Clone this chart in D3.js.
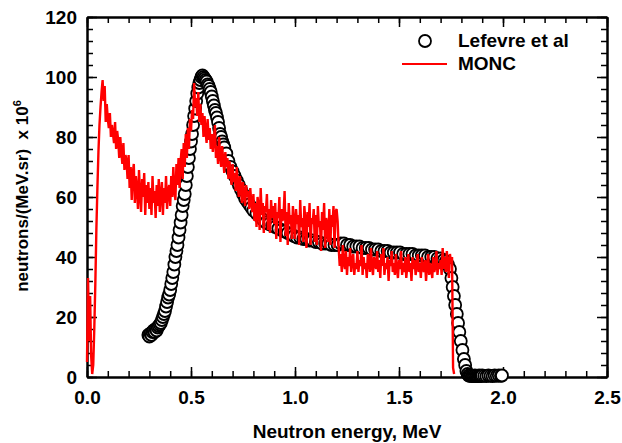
<!DOCTYPE html>
<html>
<head>
<meta charset="utf-8">
<script src="https://cdn.jsdelivr.net/npm/d3@7"></script>
<style>
  body { margin: 0; background: #fff; }
  svg text { font-family: "Liberation Sans", Arial, sans-serif; font-weight: bold; fill: #000; }
</style>
</head>
<body>
<div id="chart"></div>
<script>
// MONC calculation: one value per 0.005 MeV bin, first bin at 0 MeV
const MONC_STEP = 0.005;
const MONC_VALUES = [
  5, 33, 12, 27, 7, 1, 4, 16, 31, 49, 63, 75, 84, 90, 95, 99, 92, 97, 85, 91,
  86, 83, 88, 80, 84, 81, 78, 85, 76, 82, 79, 73, 80, 75, 71, 78, 69, 74, 72, 66,
  74, 63, 70, 59, 68, 71, 58, 67, 63, 56, 69, 61, 55, 66, 60, 68, 54, 64, 58, 65,
  56, 63, 54, 67, 58, 62, 53, 64, 57, 66, 55, 61, 65, 54, 63, 58, 67, 56, 62, 64,
  57, 67, 60, 70, 62, 59, 71, 64, 73, 63, 72, 76, 66, 78, 70, 81, 73, 83, 76, 86,
  82, 89, 86, 98, 90, 93, 87, 95, 85, 91, 84, 88, 80, 87, 82, 78, 86, 79, 83, 76,
  81, 75, 79, 84, 73, 77, 71, 80, 74, 70, 77, 72, 68, 75, 70, 73, 66, 72, 68, 64,
  71, 65, 68, 62, 70, 64, 60, 67, 63, 58, 65, 61, 57, 64, 60, 62, 56, 63, 58, 55,
  61, 52, 58, 50, 60, 57, 49, 63, 54, 58, 48, 57, 55, 61, 49, 56, 48, 59, 53, 57,
  51, 58, 46, 55, 53, 60, 45, 56, 52, 54, 62, 47, 55, 44, 58, 51, 54, 46, 57, 52,
  46, 56, 51, 54, 44, 59, 50, 53, 45, 57, 52, 43, 55, 50, 58, 44, 53, 51, 56, 45,
  54, 44, 57, 50, 52, 42, 55, 49, 58, 43, 53, 51, 45, 56, 44, 54, 50, 57, 43, 55,
  56, 52, 43, 37, 41, 35, 44, 38, 36, 42, 34, 40, 37, 43, 35, 39, 41, 34, 38, 36,
  42, 35, 39, 37, 44, 34, 40, 36, 38, 33, 41, 39, 35, 43, 37, 34, 40, 38, 36, 42,
  35, 39, 33, 41, 37, 43, 34, 38, 36, 40, 32, 39, 37, 42, 35, 38, 34, 41, 36, 33,
  39, 36, 42, 34, 38, 35, 40, 33, 37, 41, 35, 38, 32, 40, 36, 39, 34, 37, 41, 35,
  38, 33, 40, 36, 35, 39, 32, 37, 41, 34, 38, 36, 33, 40, 35, 37, 42, 34, 38, 36,
  39, 34, 43, 36, 40, 35, 42, 37, 33, 41, 38, 40, 3, 1
];

// Lefevre et al measurement
const LEF_E = [
  0.295, 0.300, 0.305, 0.310, 0.315, 0.320, 0.325, 0.330, 0.335, 0.340,
  0.345, 0.350, 0.355, 0.360, 0.365, 0.370, 0.375, 0.380, 0.385, 0.390,
  0.395, 0.400, 0.405, 0.410, 0.415, 0.420, 0.425, 0.430, 0.435, 0.440,
  0.445, 0.450, 0.455, 0.460, 0.465, 0.470, 0.475, 0.480, 0.485, 0.490,
  0.495, 0.500, 0.505, 0.510, 0.515, 0.520, 0.525, 0.530, 0.535, 0.540,
  0.545, 0.550, 0.555, 0.560, 0.565, 0.570, 0.575, 0.580, 0.585, 0.590,
  0.595, 0.600, 0.605, 0.610, 0.615, 0.620, 0.625, 0.630, 0.635, 0.640,
  0.645, 0.650, 0.655, 0.660, 0.670, 0.680, 0.690, 0.700, 0.710, 0.720,
  0.730, 0.740, 0.750, 0.760, 0.770, 0.780, 0.790, 0.800, 0.815, 0.830,
  0.845, 0.860, 0.875, 0.890, 0.905, 0.920, 0.935, 0.950, 0.965, 0.980,
  0.995, 1.010, 1.025, 1.040, 1.055, 1.070, 1.085, 1.100, 1.115, 1.130,
  1.145, 1.160, 1.175, 1.190, 1.205, 1.220, 1.235, 1.250, 1.265, 1.280,
  1.295, 1.310, 1.325, 1.340, 1.355, 1.370, 1.385, 1.400, 1.415, 1.430,
  1.445, 1.460, 1.475, 1.490, 1.505, 1.520, 1.535, 1.550, 1.565, 1.580,
  1.595, 1.610, 1.625, 1.640, 1.655, 1.670, 1.685, 1.700, 1.715, 1.725,
  1.735, 1.745, 1.752, 1.758, 1.764, 1.770, 1.778, 1.784, 1.790, 1.797,
  1.805, 1.812, 1.818, 1.824, 1.830, 1.835, 1.840, 1.845, 1.850, 1.855,
  1.860, 1.865, 1.870, 1.875, 1.880, 1.885, 1.890, 1.895, 1.900, 1.910,
  1.920, 1.930, 1.940, 1.950, 1.960, 1.970, 1.980, 1.990, 1.995
];
const LEF_V = [
  14, 13.5, 14.5, 14, 15, 15.5, 15, 16, 15.5, 16.5,
  17, 17.5, 18, 19, 20, 21, 22, 23.5, 25, 26.5,
  27.5, 29, 31, 33, 35, 37.5, 40, 42, 44, 46.5,
  49, 51.5, 54, 57, 59, 61, 64, 67, 70, 73,
  76, 78.5, 81, 84, 87, 89.5, 92, 94.5, 96.5, 98,
  99, 100, 100.5, 100, 99.5, 99, 98.5, 97.5, 97, 96,
  95, 93.5, 92, 90.5, 89, 88, 86.5, 85, 83, 81,
  80, 78.5, 77.5, 76.5, 74.5, 72, 70, 68.5, 67, 65.5,
  64, 62.5, 61, 59.5, 58.5, 57.5, 56.5, 55.5, 54.5, 53.5,
  52.5, 51.5, 51, 50.5, 50, 49.5, 49, 48.5, 48, 47.5,
  47, 46.5, 46.5, 46, 46, 45.5, 45.5, 45, 45, 44.5,
  44.5, 44.5, 44, 44, 44, 44.5, 44.5, 44, 44, 43.5,
  43.5, 43.5, 43, 43, 43, 42.5, 42.5, 42.5, 42, 42,
  42, 41.5, 41.5, 41.5, 41.5, 41, 41, 41, 41, 40.5,
  40.5, 40.5, 40.5, 40, 40, 40, 39.5, 39.5, 39, 38.5,
  37.5, 36, 33, 30, 27, 24, 21, 18, 15, 12,
  9, 6, 4, 2, 1, 0.5, 0.4, 0.5, 0.3, 0.4,
  0.3, 0.5, 0.3, 0.4, 0.3, 0.5, 0.4, 0.3, 0.5, 0.4,
  0.3, 0.5, 0.4, 0.3, 0.5, 0.4, 0.5, 0.4, 0.5
];

const X_TICKS = [0, 0.5, 1.0, 1.5, 2.0, 2.5];
const Y_TICKS = [0, 20, 40, 60, 80, 100, 120];
const X_MINOR = d3.range(0, 2.501, 0.1);
const Y_MINOR = d3.range(0, 121, 4);

// Constants for visualization
const FRAME_WIDTH = 622;
const FRAME_HEIGHT = 443;
const MARGINS = {left: 87, right: 15, top: 17, bottom: 66};
const VIS_WIDTH = FRAME_WIDTH - MARGINS.left - MARGINS.right;
const VIS_HEIGHT = FRAME_HEIGHT - MARGINS.top - MARGINS.bottom;

const FRAME = d3.select("#chart")
                .append("svg")
                  .attr("width", FRAME_WIDTH)
                  .attr("height", FRAME_HEIGHT);

const X_SCALE = d3.scaleLinear().domain([0, 2.5]).range([0, VIS_WIDTH]);
const Y_SCALE = d3.scaleLinear().domain([0, 120]).range([VIS_HEIGHT, 0]);

const PLOT = FRAME.append("g")
                  .attr("transform", "translate(" + MARGINS.left + "," + MARGINS.top + ")");

// axes: minor ticks, then major ticks (all pointing inward)
function addAxis(axis, tx, ty) {
  return PLOT.append("g")
             .attr("transform", "translate(" + tx + "," + ty + ")")
             .call(axis.tickSizeOuter(0));
}

addAxis(d3.axisBottom(X_SCALE).tickValues(X_MINOR).tickSize(-6).tickFormat(""), 0, VIS_HEIGHT);
addAxis(d3.axisTop(X_SCALE).tickValues(X_MINOR).tickSize(-6).tickFormat(""), 0, 0);
addAxis(d3.axisLeft(Y_SCALE).tickValues(Y_MINOR).tickSize(-6).tickFormat(""), 0, 0);
addAxis(d3.axisRight(Y_SCALE).tickValues(Y_MINOR).tickSize(-6).tickFormat(""), VIS_WIDTH, 0);

addAxis(d3.axisBottom(X_SCALE).tickValues(X_TICKS).tickSize(-10).tickPadding(14)
          .tickFormat(d3.format(".1f")), 0, VIS_HEIGHT);
addAxis(d3.axisTop(X_SCALE).tickValues(X_TICKS).tickSize(-10).tickFormat(""), 0, 0);
addAxis(d3.axisLeft(Y_SCALE).tickValues(Y_TICKS).tickSize(-10).tickPadding(10), 0, 0);
addAxis(d3.axisRight(Y_SCALE).tickValues(Y_TICKS).tickSize(-10).tickFormat(""), VIS_WIDTH, 0);

PLOT.selectAll(".domain").attr("stroke", "#000").attr("stroke-width", 2);
PLOT.selectAll(".tick line").attr("stroke", "#000").attr("stroke-width", 1.5);
PLOT.selectAll(".tick text").attr("font-size", "19px").attr("font-family", null);

// Lefevre points
PLOT.selectAll(".point")
    .data(LEF_E)
    .enter()
    .append("circle")
      .attr("class", "point")
      .attr("cx", (d) => X_SCALE(d))
      .attr("cy", (d, i) => Y_SCALE(LEF_V[i]))
      .attr("r", 6)
      .attr("fill", "#fff")
      .attr("stroke", "#000")
      .attr("stroke-width", 1.8);

// MONC line
const line = d3.line()
               .x((d, i) => X_SCALE(i * MONC_STEP))
               .y((d) => Y_SCALE(d));

PLOT.append("path")
    .datum(MONC_VALUES)
    .attr("d", line)
    .attr("fill", "none")
    .attr("stroke", "#ff0000")
    .attr("stroke-width", 2.4)
    .attr("stroke-linejoin", "miter")
    .attr("stroke-miterlimit", 2);

// legend
FRAME.append("circle")
     .attr("cx", 425).attr("cy", 41).attr("r", 6)
     .attr("fill", "#fff").attr("stroke", "#000").attr("stroke-width", 1.8);
FRAME.append("text").attr("x", 458).attr("y", 47).attr("font-size", "19px").text("Lefevre et al");
FRAME.append("line")
     .attr("x1", 402).attr("x2", 447).attr("y1", 64).attr("y2", 64)
     .attr("stroke", "#ff0000").attr("stroke-width", 1.8);
FRAME.append("text").attr("x", 458).attr("y", 70).attr("font-size", "19px").text("MONC");

// axis titles
FRAME.append("text")
     .attr("x", MARGINS.left + VIS_WIDTH / 2)
     .attr("y", 438)
     .attr("text-anchor", "middle")
     .attr("font-size", "19px")
     .text("Neutron energy, MeV");

const yTitle = FRAME.append("text")
     .attr("transform", "translate(28,196) rotate(-90)")
     .attr("text-anchor", "middle")
     .attr("font-size", "17px")
     .style("white-space", "pre");
yTitle.append("tspan").text("neutrons/(MeV.sr)  x 10");
yTitle.append("tspan").attr("font-size", "11px").attr("dy", -7).text("6");
</script>
</body>
</html>
